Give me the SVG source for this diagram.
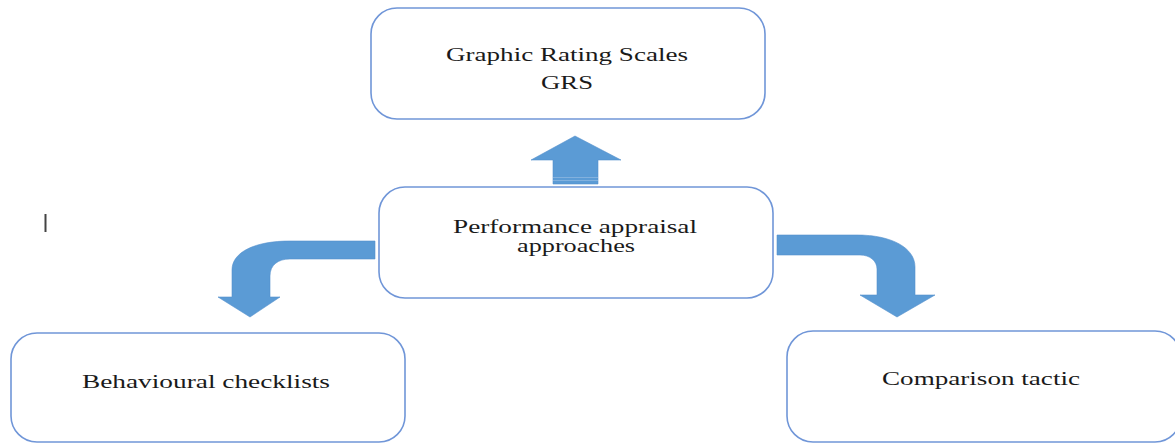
<svg xmlns="http://www.w3.org/2000/svg" width="1175" height="444" viewBox="0 0 1175 444">
  <style>
    .box { fill: #ffffff; stroke: #7096d8; stroke-width: 1.6; }
    .label { font-family: "Liberation Serif", "Times New Roman", serif; font-size: 18px; fill: #1a1a1a; text-anchor: middle; }
    .arrow { fill: #5b9bd5; stroke: #5590cc; stroke-width: 0.6; }
  </style>
  <rect width="1175" height="444" fill="#ffffff"/>

  <!-- stray cursor mark -->
  <rect x="44.5" y="214" width="2" height="18" fill="#444444"/>

  <g id="connectors">
    <!-- up arrow to GRS -->
    <path class="arrow" d="M553,184 L553,160 L531,160 L575,136 L621,160 L598,160 L598,184 Z"/>
    <line x1="553" y1="177.5" x2="598" y2="177.5" stroke="#8db6e0" stroke-width="0.8"/>
    <line x1="553" y1="180.5" x2="598" y2="180.5" stroke="#8db6e0" stroke-width="0.8"/>
    <!-- bent arrow to the left -->
    <path class="arrow" d="M375,241 L290,241 C255,241 232,252 232,270 L232,297 L218,297 L250,317 L280,297 L270,297 L270,276 C270,265 278,259 290,259 L375,259 Z"/>
    <!-- bent arrow to the right -->
    <path class="arrow" d="M777,235 L857,235 C892,235 915,248 915,267 L915,295 L935,295 L897,317 L860,295 L877,295 L877,269 C877,261 870,255 860,255 L777,255 Z"/>
  </g>

  <g id="grs">
    <rect class="box" x="371" y="8" width="394" height="111" rx="26" ry="26"/>
    <text class="label" x="567" y="61" textLength="242" lengthAdjust="spacingAndGlyphs">Graphic Rating Scales</text>
    <text class="label" x="567" y="89" textLength="52" lengthAdjust="spacingAndGlyphs">GRS</text>
  </g>

  <g id="approaches">
    <rect class="box" x="379" y="187" width="394" height="111" rx="26" ry="26"/>
    <text class="label" x="575" y="233" textLength="244" lengthAdjust="spacingAndGlyphs">Performance appraisal</text>
    <text class="label" x="576" y="252" textLength="118" lengthAdjust="spacingAndGlyphs">approaches</text>
  </g>

  <g id="checklists">
    <rect class="box" x="11" y="333" width="394" height="109" rx="26" ry="26"/>
    <text class="label" x="206" y="388" textLength="248" lengthAdjust="spacingAndGlyphs">Behavioural checklists</text>
  </g>

  <g id="comparison">
    <rect class="box" x="787" y="331" width="394" height="111" rx="26" ry="26"/>
    <text class="label" x="981" y="385" textLength="198" lengthAdjust="spacingAndGlyphs">Comparison tactic</text>
  </g>
</svg>
